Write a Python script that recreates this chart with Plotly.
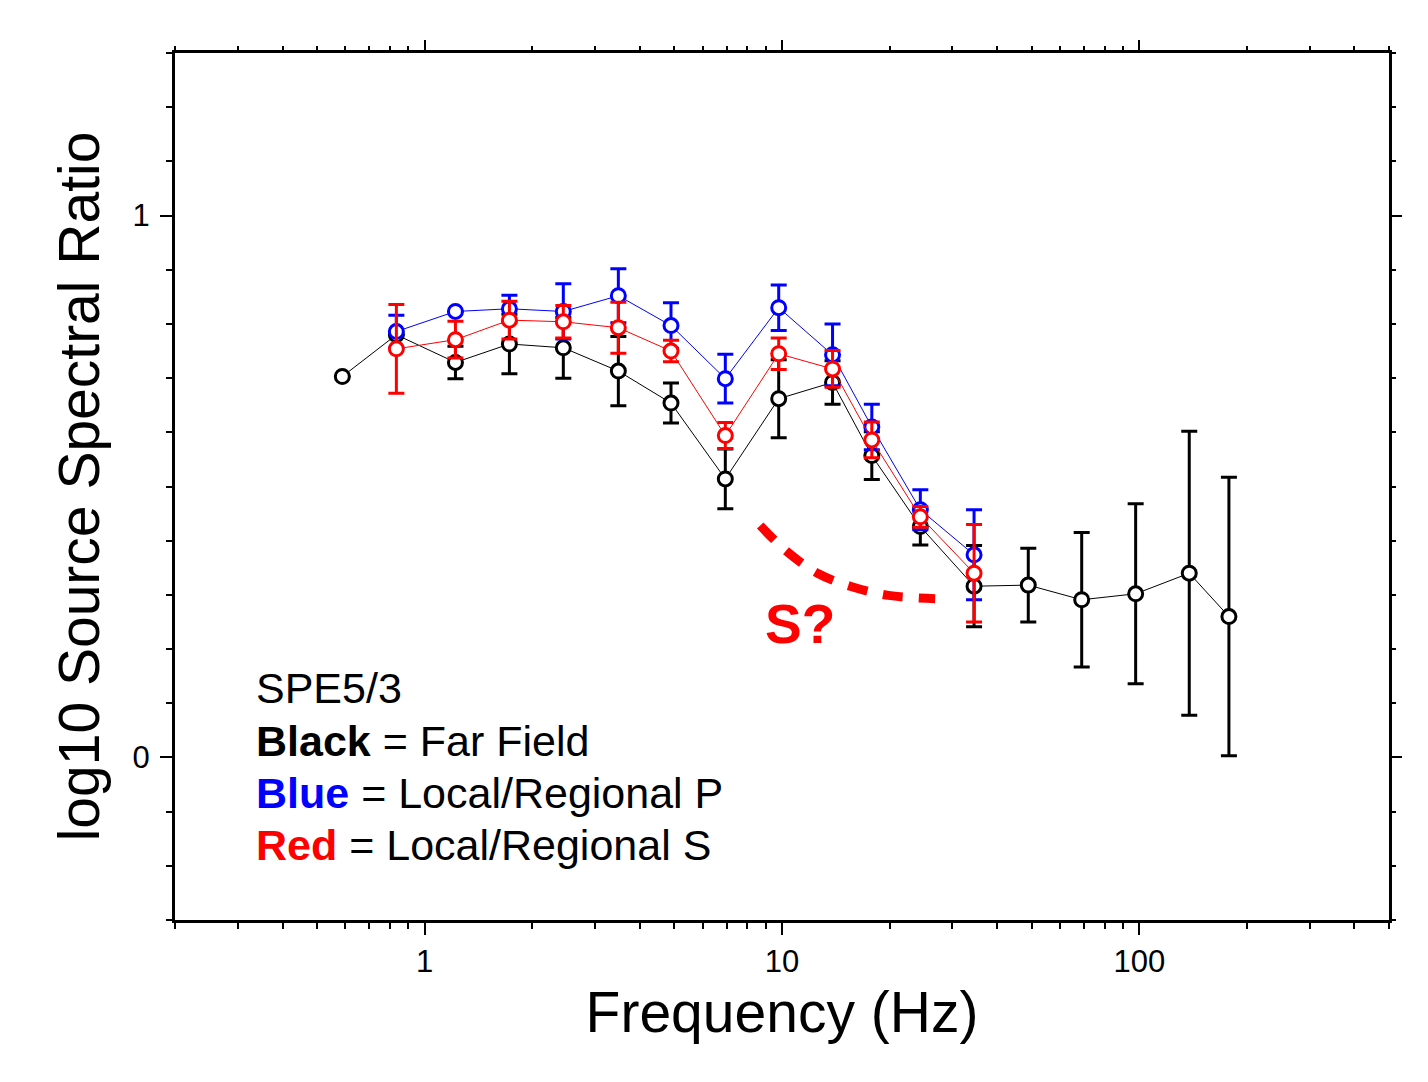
import math
import plotly.graph_objects as go

# ---------------- data ----------------
freq_black = [0.588, 0.833, 1.219, 1.726, 2.443, 3.483, 4.89, 6.94, 9.79, 13.85,
              17.84, 24.39, 34.48, 48.9, 69.0, 97.7, 138.0, 178.2]
val_black = [0.703, 0.780, 0.729, 0.763, 0.756, 0.713, 0.654, 0.514, 0.662, 0.692,
             0.557, 0.426, 0.316, 0.318, 0.291, 0.302, 0.340, 0.260]
err_black = [0.0, 0.0, 0.030, 0.055, 0.056, 0.064, 0.037, 0.055, 0.072, 0.040,
             0.044, 0.034, 0.075, 0.068, 0.124, 0.166, 0.262, 0.257]

freq_blue = [0.833, 1.219, 1.726, 2.443, 3.483, 4.89, 6.94, 9.79, 13.85, 17.84, 24.39, 34.48]
val_blue = [0.786, 0.823, 0.828, 0.823, 0.852, 0.797, 0.699, 0.830, 0.743, 0.610, 0.457, 0.374]
err_blue = [0.030, 0.0, 0.025, 0.051, 0.050, 0.042, 0.045, 0.042, 0.057, 0.042, 0.037, 0.083]

freq_red = [0.833, 1.219, 1.726, 2.443, 3.483, 4.89, 6.94, 9.79, 13.85, 17.84, 24.39, 34.48]
val_red = [0.754, 0.771, 0.807, 0.804, 0.793, 0.750, 0.594, 0.745, 0.717, 0.586, 0.444, 0.340]
err_red = [0.082, 0.034, 0.035, 0.030, 0.047, 0.020, 0.024, 0.029, 0.034, 0.033, 0.019, 0.090]

# hand-drawn "S?" dashed curve
s_curve_freq = [8.69, 10.32, 12.65, 15.69, 19.86, 26.83]
s_curve_val = [0.428, 0.380, 0.339, 0.315, 0.299, 0.293]

x_major_ticks = [1, 10, 100]
x_major_labels = ["1", "10", "100"]
x_minor_ticks = [0.2, 0.3, 0.4, 0.5, 0.6, 0.7, 0.8, 0.9,
                 2, 3, 4, 5, 6, 7, 8, 9,
                 20, 30, 40, 50, 60, 70, 80, 90,
                 200, 300, 400, 500]
y_major_ticks = [0, 1]
y_major_labels = ["0", "1"]

x_range = [0.2, 500]
y_range = [-0.3, 1.3]

FONT = "Liberation Sans, Arial, Helvetica, sans-serif"

fig = go.Figure()


def series(fx, fy, ferr, color):
    return go.Scatter(
        x=fx, y=fy, mode="lines+markers",
        line=dict(color=color, width=1),
        marker=dict(symbol="circle", size=14, color="white",
                    line=dict(color=color, width=3)),
        error_y=dict(type="data", array=ferr, visible=True,
                     color=color, thickness=3, width=8),
        showlegend=False, hoverinfo="skip",
    )


fig.add_trace(series(freq_black, val_black, err_black, "black"))
fig.add_trace(series(freq_blue, val_blue, err_blue, "#0000ff"))
fig.add_trace(series(freq_red, val_red, err_red, "#ff0000"))

fig.add_trace(go.Scatter(
    x=s_curve_freq, y=s_curve_val, mode="lines",
    line=dict(color="#ff0000", width=9, dash="20px,16px", shape="spline"),
    showlegend=False, hoverinfo="skip",
))

# invisible trace so that the mirrored (top / right) tick axes are drawn
fig.add_trace(go.Scatter(x=[None], y=[None], xaxis="x2", yaxis="y2",
                         mode="markers", showlegend=False, hoverinfo="skip"))

tick_common = dict(ticks="outside", tickcolor="black", tickwidth=1.5)
minor_x = dict(tickvals=x_minor_ticks, ticks="outside", ticklen=6,
               tickwidth=1.5, tickcolor="black", showgrid=False)
minor_y = dict(dtick=0.1, tick0=0, ticks="outside", ticklen=6,
               tickwidth=1.5, tickcolor="black", showgrid=False)

log_range = [math.log10(x_range[0]), math.log10(x_range[1])]

fig.update_layout(
    width=1428, height=1082,
    margin=dict(l=175, r=39, t=53, b=162),
    paper_bgcolor="white", plot_bgcolor="white",
    font=dict(family=FONT, color="black"),
    showlegend=False,
    xaxis=dict(
        type="log", range=log_range,
        tickmode="array", tickvals=x_major_ticks, ticktext=x_major_labels,
        ticklen=12, **tick_common,
        minor=minor_x,
        tickfont=dict(size=31, family=FONT, color="black"),
        showgrid=False, zeroline=False,
        showline=True, linewidth=3, linecolor="black", mirror=True,
        title=dict(text="Frequency (Hz)", font=dict(size=57, family=FONT, color="black"),
                   standoff=14),
        automargin=False,
    ),
    yaxis=dict(
        range=y_range,
        tickmode="array", tickvals=y_major_ticks, ticktext=y_major_labels,
        ticklen=12, **tick_common,
        minor=minor_y,
        ticklabelstandoff=4,
        tickfont=dict(size=31, family=FONT, color="black"),
        showgrid=False, zeroline=False,
        showline=True, linewidth=3, linecolor="black", mirror=True,
        title=dict(text="log10 Source Spectral Ratio",
                   font=dict(size=57, family=FONT, color="black"), standoff=15),
        automargin=False,
    ),
    xaxis2=dict(
        type="log", range=log_range, overlaying="x", side="top", anchor="y",
        tickmode="array", tickvals=x_major_ticks, ticklen=12, **tick_common,
        minor=minor_x, showticklabels=False,
        showgrid=False, zeroline=False, showline=False,
    ),
    yaxis2=dict(
        range=y_range, overlaying="y", side="right", anchor="x",
        tickmode="array", tickvals=y_major_ticks, ticklen=12, **tick_common,
        minor=minor_y, showticklabels=False,
        showgrid=False, zeroline=False, showline=False,
    ),
)

# text block (in plot-area fractions)
def px_x(px):
    return (px - 175) / 1214.0


def px_y(py):
    return (920 - py) / 867.0


legend_lines = [
    ("SPE5/3", 688),
    ("<b>Black</b> = Far Field", 741),
    ("<b><span style='color:#0000ff'>Blue</span></b> = Local/Regional P", 793),
    ("<b><span style='color:#ff0000'>Red</span></b> = Local/Regional S", 845),
]
for txt, yc in legend_lines:
    fig.add_annotation(
        x=px_x(254), y=px_y(yc), xref="paper", yref="paper",
        text=txt, showarrow=False, xanchor="left", yanchor="middle",
        font=dict(size=43, family=FONT, color="black"),
    )

fig.add_annotation(
    x=px_x(800), y=px_y(624), xref="paper", yref="paper",
    text="<b>S?</b>", showarrow=False, xanchor="center", yanchor="middle",
    font=dict(size=55, family=FONT, color="#ff0000"),
)

fig.write_html("out.html")
